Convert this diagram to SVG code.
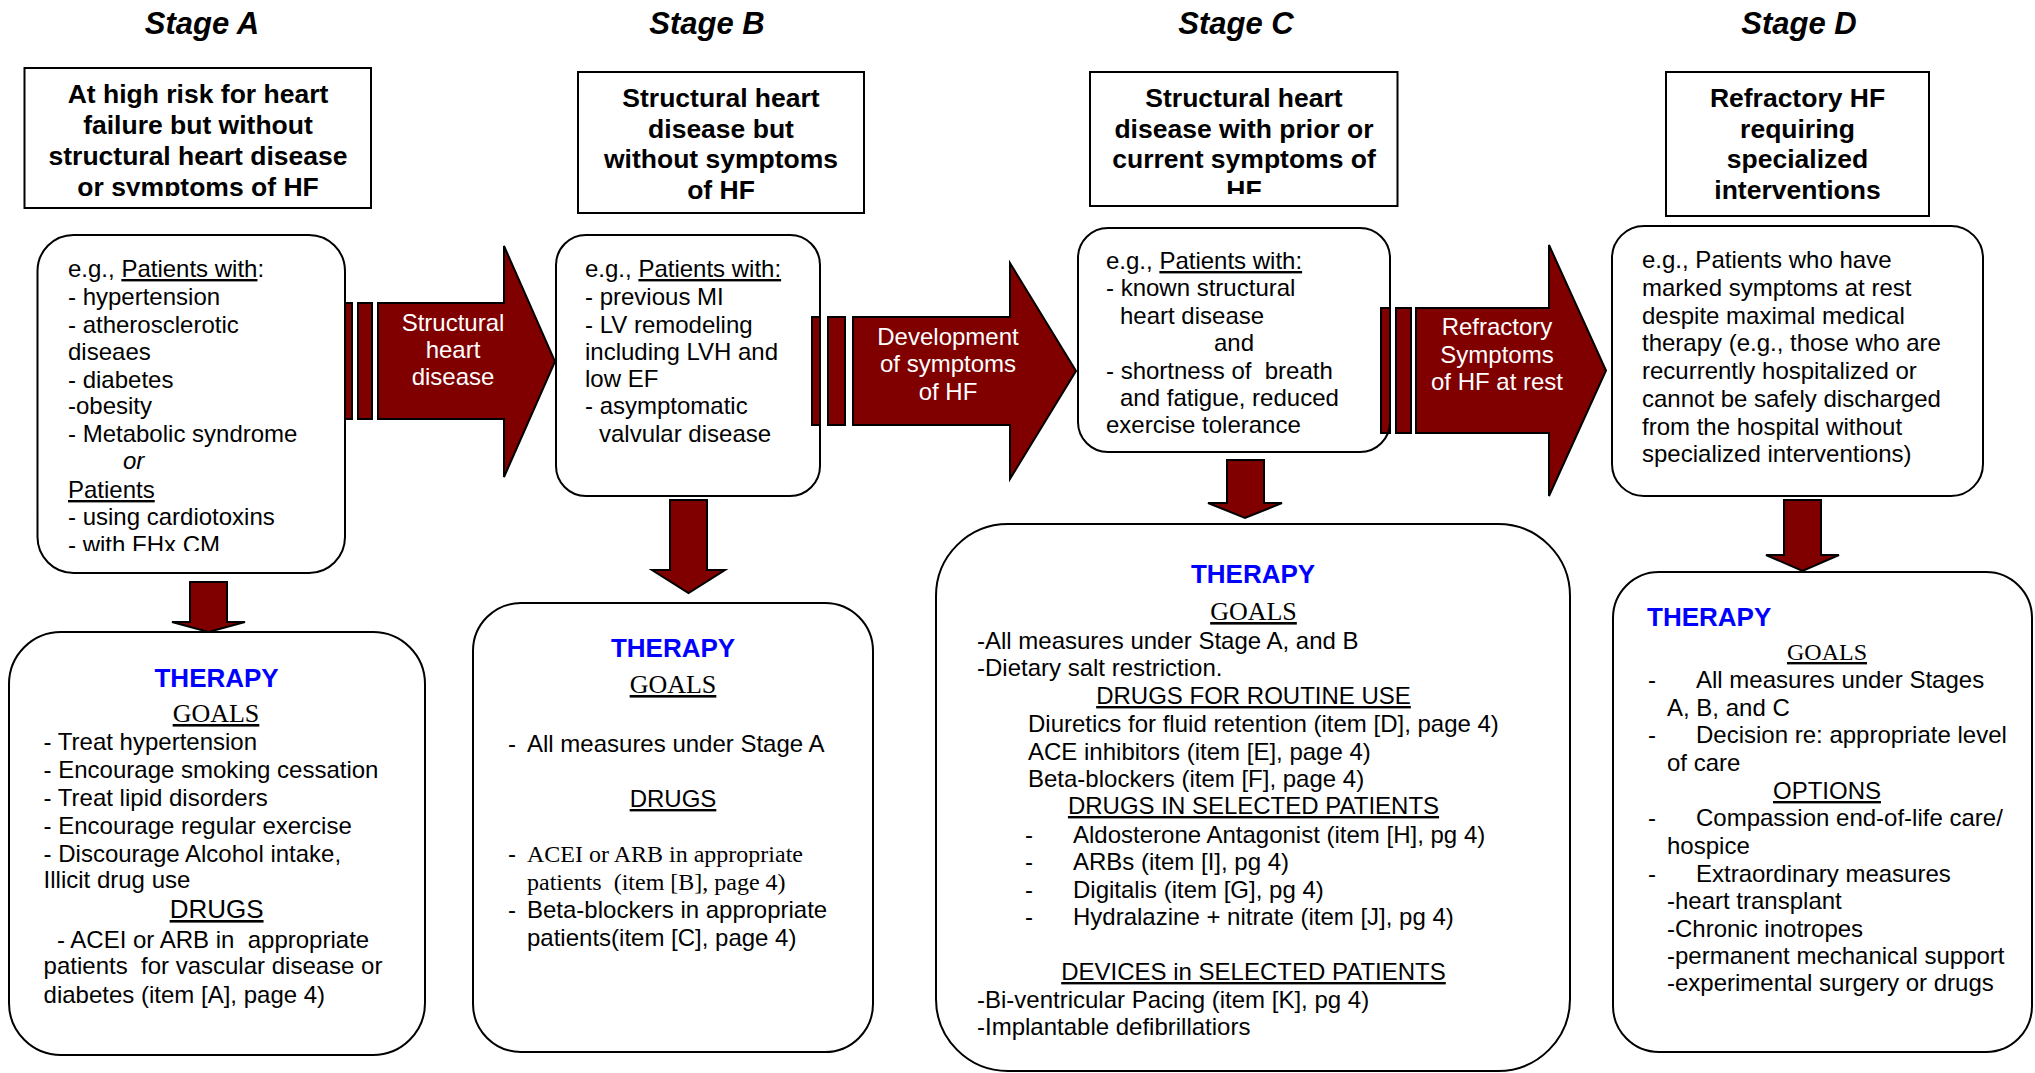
<svg xmlns="http://www.w3.org/2000/svg" width="2035" height="1073" viewBox="0 0 2035 1073">
<style>
text{font-family:"Liberation Sans",Arial,Helvetica,sans-serif;font-size:24px;fill:#000}
.stage{font-style:italic;font-weight:bold;font-size:31px;text-anchor:middle}
.hdr{font-weight:bold;font-size:26.5px;text-anchor:middle}
.w{fill:#fff;text-anchor:middle}
.ther{font-weight:bold;font-size:26px;fill:#0000ff}
.serif{font-family:"Liberation Serif","Times New Roman",serif}
.big{font-size:26px}
.u{text-decoration:underline}
.c{text-anchor:middle}
.box{fill:none;stroke:#000;stroke-width:2}
.arr{fill:#800000;stroke:#000;stroke-width:2;stroke-linejoin:miter}
</style>
<defs>
<clipPath id="clipHA"><rect x="24" y="68" width="348" height="128"/></clipPath>
<clipPath id="clipHC"><rect x="1090" y="72" width="308" height="122"/></clipPath>
<clipPath id="clipPA"><rect x="37" y="235" width="309" height="316"/></clipPath>
</defs>
<rect x="0" y="0" width="2035" height="1073" fill="#fff"/>

<g id="connectors">
  <g id="arrow-A-B">
    <rect class="arr" x="345" y="303" width="7" height="116"/>
    <rect class="arr" x="358" y="303" width="14" height="116"/>
    <polygon class="arr" points="378,303 504,303 504,246 555,361.5 504,477 504,419 378,419"/>
    <text class="w" x="453" y="331">Structural</text>
    <text class="w" x="453" y="358">heart</text>
    <text class="w" x="453" y="385">disease</text>
  </g>
  <g id="arrow-B-C">
    <rect class="arr" x="812" y="317" width="8" height="108"/>
    <rect class="arr" x="828" y="317" width="17" height="108"/>
    <polygon class="arr" points="853,317 1010,317 1010,263 1076,371 1010,479 1010,425 853,425"/>
    <text class="w" x="948" y="345">Development</text>
    <text class="w" x="948" y="372">of symptoms</text>
    <text class="w" x="948" y="400">of HF</text>
  </g>
  <g id="arrow-C-D">
    <rect class="arr" x="1381" y="308" width="9" height="125"/>
    <rect class="arr" x="1396" y="308" width="15" height="125"/>
    <polygon class="arr" points="1416,308 1549,308 1549,245 1606,370.5 1549,496 1549,433 1416,433"/>
    <text class="w" x="1497" y="335">Refractory</text>
    <text class="w" x="1497" y="363">Symptoms</text>
    <text class="w" x="1497" y="390">of HF at rest</text>
  </g>
  <polygon id="down-A" class="arr" points="190,582 227,582 227,622 245,622 208.5,632 172,622 190,622"/>
  <polygon id="down-B" class="arr" points="670,500 707,500 707,570 725,570 688.5,593 652,570 670,570"/>
  <polygon id="down-C" class="arr" points="1227,460 1264,460 1264,503 1282,503 1245,518 1208,503 1227,503"/>
  <polygon id="down-D" class="arr" points="1784,500 1821,500 1821,555 1839,555 1802.5,571 1766,555 1784,555"/>
</g>

<g id="titles">
  <text class="stage" x="202" y="34">Stage A</text>
  <text class="stage" x="707" y="34">Stage B</text>
  <text class="stage" x="1236" y="34">Stage C</text>
  <text class="stage" x="1799" y="34">Stage D</text>
</g>

<g id="header-A">
  <rect class="box" x="24.5" y="68" width="346.5" height="140"/>
  <g clip-path="url(#clipHA)">
    <text class="hdr" x="198" y="103">At high risk for heart</text>
    <text class="hdr" x="198" y="134">failure but without</text>
    <text class="hdr" x="198" y="165">structural heart disease</text>
    <text class="hdr" x="198" y="196">or symptoms of HF</text>
  </g>
</g>
<g id="header-B">
  <rect class="box" x="578" y="72" width="286" height="141"/>
  <text class="hdr" x="721" y="107">Structural heart</text>
  <text class="hdr" x="721" y="138">disease but</text>
  <text class="hdr" x="721" y="168">without symptoms</text>
  <text class="hdr" x="721" y="199">of HF</text>
</g>
<g id="header-C">
  <rect class="box" x="1090" y="72" width="307.5" height="134"/>
  <g clip-path="url(#clipHC)">
    <text class="hdr" x="1244" y="107">Structural heart</text>
    <text class="hdr" x="1244" y="138">disease with prior or</text>
    <text class="hdr" x="1244" y="168">current symptoms of</text>
    <text class="hdr" x="1244" y="199">HF</text>
  </g>
</g>
<g id="header-D">
  <rect class="box" x="1666" y="72" width="263" height="144"/>
  <text class="hdr" x="1797.5" y="107">Refractory HF</text>
  <text class="hdr" x="1797.5" y="138">requiring</text>
  <text class="hdr" x="1797.5" y="168">specialized</text>
  <text class="hdr" x="1797.5" y="199">interventions</text>
</g>

<g id="patients-A">
  <rect class="box" x="37.5" y="235" width="307.5" height="338" rx="36"/>
  <g clip-path="url(#clipPA)">
    <text x="68" y="277">e.g., <tspan class="u">Patients with</tspan>:</text>
    <text x="68" y="305">- hypertension</text>
    <text x="68" y="333">- atherosclerotic</text>
    <text x="68" y="360">diseaes</text>
    <text x="68" y="388">- diabetes</text>
    <text x="68" y="414">-obesity</text>
    <text x="68" y="442">- Metabolic syndrome</text>
    <text x="123" y="469" font-style="italic">or</text>
    <text x="68" y="498" class="u">Patients</text>
    <text x="68" y="525">- using cardiotoxins</text>
    <text x="68" y="553">- with FHx CM</text>
  </g>
</g>
<g id="patients-B">
  <rect class="box" x="556" y="235" width="264" height="261" rx="30"/>
  <text x="585" y="277">e.g., <tspan class="u">Patients with:</tspan></text>
  <text x="585" y="305">- previous MI</text>
  <text x="585" y="333">- LV remodeling</text>
  <text x="585" y="360">including LVH and</text>
  <text x="585" y="387">low EF</text>
  <text x="585" y="414">- asymptomatic</text>
  <text x="599" y="442">valvular disease</text>
</g>
<g id="patients-C">
  <rect class="box" x="1078" y="228" width="312" height="224" rx="30"/>
  <text x="1106" y="269">e.g., <tspan class="u">Patients with:</tspan></text>
  <text x="1106" y="296">- known structural</text>
  <text x="1120" y="324">heart disease</text>
  <text x="1214" y="351">and</text>
  <text x="1106" y="379" xml:space="preserve">- shortness of  breath</text>
  <text x="1120" y="406">and fatigue, reduced</text>
  <text x="1106" y="433">exercise tolerance</text>
</g>
<g id="patients-D">
  <rect class="box" x="1612" y="226" width="371" height="270" rx="32"/>
  <text x="1642" y="268">e.g., Patients who have</text>
  <text x="1642" y="296">marked symptoms at rest</text>
  <text x="1642" y="324">despite maximal medical</text>
  <text x="1642" y="351">therapy (e.g., those who are</text>
  <text x="1642" y="379">recurrently hospitalized or</text>
  <text x="1642" y="407">cannot be safely discharged</text>
  <text x="1642" y="435">from the hospital without</text>
  <text x="1642" y="462">specialized interventions)</text>
</g>

<g id="therapy-A">
  <rect class="box" x="9" y="632" width="416" height="423" rx="52"/>
  <text class="ther c" x="216.6" y="687">THERAPY</text>
  <text class="serif u c big" x="216" y="722">GOALS</text>
  <text x="43.6" y="750">- Treat hypertension</text>
  <text x="43.6" y="778">- Encourage smoking cessation</text>
  <text x="43.6" y="806">- Treat lipid disorders</text>
  <text x="43.6" y="834">- Encourage regular exercise</text>
  <text x="43.6" y="862">- Discourage Alcohol intake,</text>
  <text x="43.6" y="888">Illicit drug use</text>
  <text class="u c big" x="216.6" y="918">DRUGS</text>
  <text x="57" y="948" xml:space="preserve">- ACEI or ARB in  appropriate</text>
  <text x="43.6" y="974" xml:space="preserve">patients  for vascular disease or</text>
  <text x="43.6" y="1003">diabetes (item [A], page 4)</text>
</g>
<g id="therapy-B">
  <rect class="box" x="473" y="603" width="400" height="449" rx="48"/>
  <text class="ther c" x="673" y="657">THERAPY</text>
  <text class="serif u c big" x="673" y="693">GOALS</text>
  <text x="508" y="752">-</text>
  <text x="527" y="752">All measures under Stage A</text>
  <text class="u c" x="673" y="807">DRUGS</text>
  <text x="508" y="862">-</text>
  <text class="serif" x="527" y="862">ACEI or ARB in appropriate</text>
  <text class="serif" x="527" y="890" xml:space="preserve">patients  (item [B], page 4)</text>
  <text x="508" y="918">-</text>
  <text x="527" y="918">Beta-blockers in appropriate</text>
  <text x="527" y="946">patients(item [C], page 4)</text>
</g>
<g id="therapy-C">
  <rect class="box" x="936" y="524" width="634" height="547" rx="72"/>
  <text class="ther c" x="1253" y="583">THERAPY</text>
  <text class="serif u c big" x="1253.5" y="620">GOALS</text>
  <text x="977" y="649">-All measures under Stage A, and B</text>
  <text x="977" y="676">-Dietary salt restriction.</text>
  <text class="u c" x="1253.5" y="704">DRUGS FOR ROUTINE USE</text>
  <text x="1028" y="732">Diuretics for fluid retention (item [D], page 4)</text>
  <text x="1028" y="759.5">ACE inhibitors (item [E], page 4)</text>
  <text x="1028" y="787">Beta-blockers (item [F], page 4)</text>
  <text class="u c" x="1253.5" y="814">DRUGS IN SELECTED PATIENTS</text>
  <text x="1025" y="843">-</text>
  <text x="1073" y="843">Aldosterone Antagonist (item [H], pg 4)</text>
  <text x="1025" y="870">-</text>
  <text x="1073" y="870">ARBs (item [I], pg 4)</text>
  <text x="1025" y="898">-</text>
  <text x="1073" y="898">Digitalis (item [G], pg 4)</text>
  <text x="1025" y="925">-</text>
  <text x="1073" y="925">Hydralazine + nitrate (item [J], pg 4)</text>
  <text class="u c" x="1253.5" y="980">DEVICES in SELECTED PATIENTS</text>
  <text x="977" y="1008">-Bi-ventricular Pacing (item [K], pg 4)</text>
  <text x="977" y="1035">-Implantable defibrillatiors</text>
</g>
<g id="therapy-D">
  <rect class="box" x="1613" y="572" width="419" height="480" rx="46"/>
  <text class="ther" x="1647" y="626">THERAPY</text>
  <text class="serif u c" x="1827" y="660">GOALS</text>
  <text x="1648" y="688">-</text>
  <text x="1696" y="688">All measures under Stages</text>
  <text x="1667" y="716">A, B, and C</text>
  <text x="1648" y="743">-</text>
  <text x="1696" y="743">Decision re: appropriate level</text>
  <text x="1667" y="770.5">of care</text>
  <text class="u c" x="1827" y="799">OPTIONS</text>
  <text x="1648" y="826">-</text>
  <text x="1696" y="826">Compassion end-of-life care/</text>
  <text x="1667" y="854">hospice</text>
  <text x="1648" y="882">-</text>
  <text x="1696" y="882">Extraordinary measures</text>
  <text x="1667" y="909">-heart transplant</text>
  <text x="1667" y="937">-Chronic inotropes</text>
  <text x="1667" y="964">-permanent mechanical support</text>
  <text x="1667" y="991">-experimental surgery or drugs</text>
</g>
</svg>
